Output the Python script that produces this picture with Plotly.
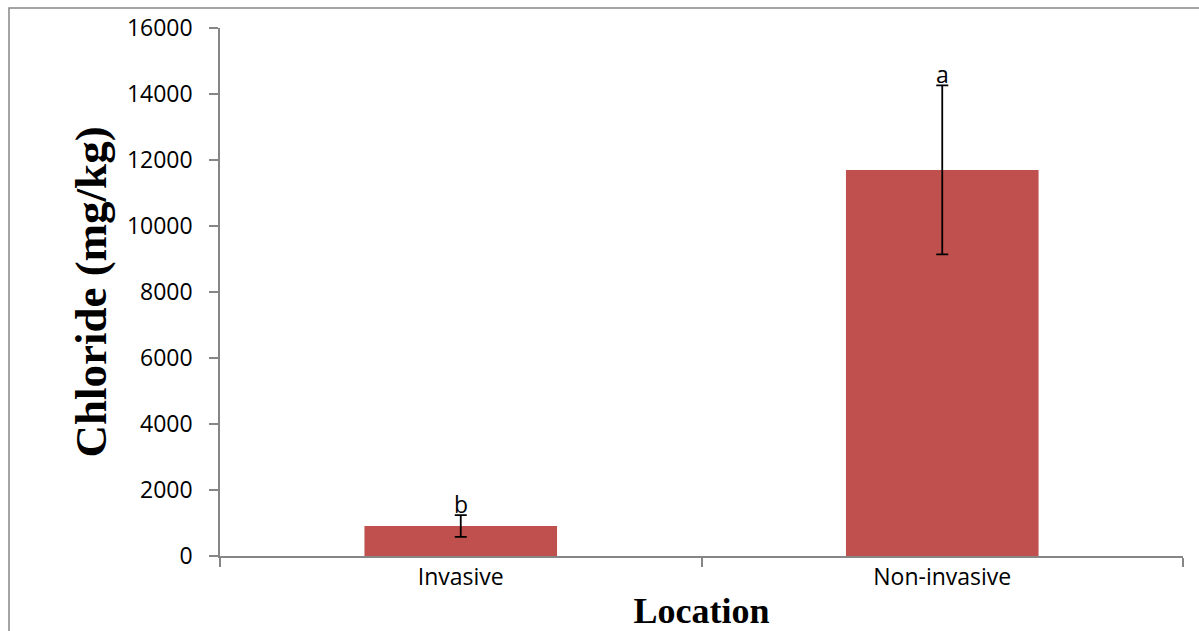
import plotly.graph_objects as go

# Chloride concentration by location (mean ± error)
categories = ["Invasive", "Non-invasive"]
chloride_mean = [910, 11700]
chloride_err = [330, 2560]
group_letters = ["b", "a"]
y_ticks = [0, 2000, 4000, 6000, 8000, 10000, 12000, 14000, 16000]

bar_color = "#C0504D"
axis_color = "#868686"
label_font = "Open Sans, Lato, Arial, sans-serif"
title_font = "Liberation Serif, Times New Roman, serif"

# bars sit at the middle of each category slot on a numeric axis
x_pos = [i + 0.5 for i in range(len(categories))]
slot_edges = [i for i in range(len(categories) + 1)]

fig = go.Figure()
fig.add_trace(go.Bar(
    x=x_pos,
    y=chloride_mean,
    width=0.4,
    marker=dict(color=bar_color, line=dict(width=0)),
    error_y=dict(type="data", array=chloride_err, visible=True,
                 color="black", thickness=1.8, width=6),
    showlegend=False,
))

for xp, m, e, letter in zip(x_pos, chloride_mean, chloride_err, group_letters):
    fig.add_annotation(
        x=xp, y=m + e, text=letter, showarrow=False,
        yanchor="bottom", xanchor="center", yshift=-7,
        font=dict(family=label_font, size=23, color="black"),
    )

fig.update_layout(
    width=1199, height=631,
    margin=dict(l=220, r=16, t=28, b=75, pad=0),
    paper_bgcolor="white", plot_bgcolor="white",
    xaxis=dict(
        range=[0, len(categories)],
        tickvals=x_pos, ticktext=categories,
        ticks="", showgrid=False, zeroline=False, automargin=False,
        showline=True, linecolor=axis_color, linewidth=1.5,
        tickfont=dict(family=label_font, size=23, color="black"),
        minor=dict(tickvals=slot_edges, ticks="outside", ticklen=9,
                   tickcolor=axis_color, tickwidth=1.5, showgrid=False),
        title=dict(text="<b>Location</b>", standoff=9,
                   font=dict(family=title_font, size=36, color="black")),
    ),
    yaxis=dict(
        range=[0, 16000],
        tickvals=y_ticks, ticktext=[str(v) for v in y_ticks],
        ticks="outside", ticklen=9, tickcolor=axis_color, tickwidth=1.5,
        showgrid=False, zeroline=False, automargin=False,
        showline=True, linecolor=axis_color, linewidth=1.5,
        tickfont=dict(family=label_font, size=23, color="black"),
        ticklabelstandoff=12,
        title=dict(text="<b>Chloride (mg/kg)</b>", standoff=6,
                   font=dict(family=title_font, size=45, color="black")),
    ),
)

# outer chart frame
fig.add_shape(
    type="rect", xref="paper", yref="paper",
    x0=(9 - 220) / 963, x1=1.1, y0=-0.3, y1=(556 - 8) / 528,
    line=dict(color=axis_color, width=1.5), fillcolor="rgba(0,0,0,0)",
    layer="below",
)

fig.write_html("out.html")
